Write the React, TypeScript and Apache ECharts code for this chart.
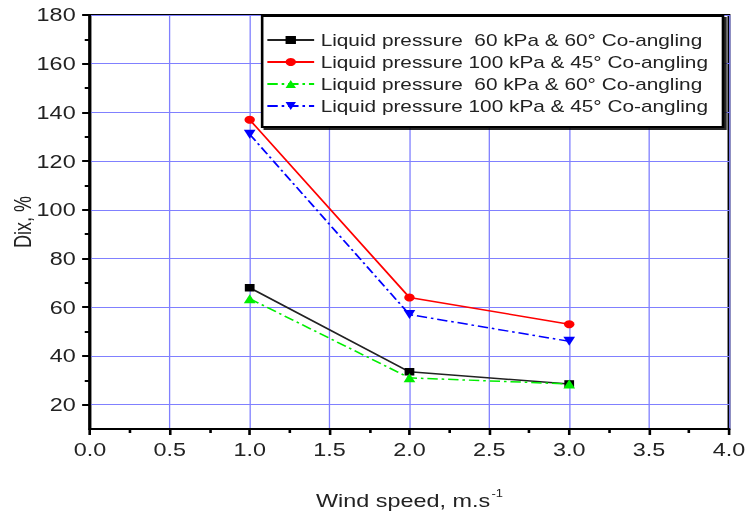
import React, { useEffect, useRef } from "react";
import * as echarts from "echarts";

const windSpeed = [1.0, 2.0, 3.0];
const s60a = [68, 33.5, 28.5];
const s100a = [137, 64, 53];
const s60b = [63.5, 31, 28.5];
const s100b = [131, 57, 46];
const yMajor = [20, 40, 60, 80, 100, 120, 140, 160, 180];
const yMinor = [30, 50, 70, 90, 110, 130, 150, 170];
const names = [
  "Liquid pressure  60 kPa & 60° Co-angling",
  "Liquid pressure 100 kPa & 45° Co-angling",
  "Liquid pressure  60 kPa & 60° Co-angling ",
  "Liquid pressure 100 kPa & 45° Co-angling ",
];

const pairs = (ys: number[]) => windSpeed.map((x, i) => [x, ys[i]]);

const W = 574;
const H = 513;
const SX = 746 / W;

export default function App() {
  const ref = useRef<HTMLDivElement>(null);
  useEffect(() => {
    const chart = echarts.init(ref.current!, null, { renderer: "svg" });
    const font = "Liberation Sans, Arial, sans-serif";
    const gridColor = "#8080ff";
    const txt = "#222";
    chart.setOption({
      animation: false,
      grid: {
        left: 69.2,
        top: 15,
        right: 13.1,
        bottom: 84,
        show: true,
        borderColor: "#000",
        borderWidth: 2.2,
        containLabel: false,
        outerBoundsMode: "none",
      },
      legend: {
        right: 17.7,
        top: 16,
        orient: "vertical",
        itemWidth: 36,
        itemHeight: 10,
        itemGap: 6,
        padding: [16, 7, 13, 3],
        backgroundColor: "#fff",
        borderColor: "#000",
        borderWidth: 2,
        shadowColor: "rgba(0,0,0,0.85)",
        shadowOffsetX: 2,
        shadowOffsetY: 2,
        shadowBlur: 0,
        textStyle: { fontFamily: font, fontSize: 16, color: txt },
        data: names,
      },
      xAxis: {
        type: "value",
        min: 0,
        max: 4,
        interval: 0.5,
        minorTick: { show: true, splitNumber: 2, length: 4, lineStyle: { color: "#000", width: 2 } },
        axisLine: { lineStyle: { color: "#000", width: 2.2 } },
        axisTick: { length: 6, lineStyle: { color: "#000", width: 2 } },
        axisLabel: { fontFamily: font, fontSize: 18, color: txt, margin: 12, formatter: (v: number) => v.toFixed(1) },
        splitLine: { show: true, lineStyle: { color: gridColor, width: 1 } },
        name: "{a|Wind speed, m.s}{s|-1}",
        nameLocation: "middle",
        nameGap: 60,
        nameTextStyle: {
          rich: {
            a: { fontFamily: font, fontSize: 18, color: txt },
            s: { fontFamily: font, fontSize: 10, color: txt, padding: [0, 0, 13, 1] },
          },
        },
      },
      yAxis: [
        {
          type: "value",
          min: 10,
          max: 180,
          interval: 20,
          axisLabel: { fontFamily: font, fontSize: 18, color: txt, margin: 11, customValues: yMajor },
          axisTick: { length: 6, lineStyle: { color: "#000", width: 2 }, customValues: yMajor },
          axisLine: { lineStyle: { color: "#000", width: 2.2 } },
          splitLine: { show: true, lineStyle: { color: gridColor, width: 1 } },
          name: "Dix, %",
          nameLocation: "middle",
          nameGap: 43,
          nameMoveOverlap: false,
          nameTextStyle: { fontFamily: font, fontSize: 18, color: txt },
        },
        {
          type: "value",
          position: "left",
          min: 10,
          max: 180,
          interval: 10,
          axisLabel: { show: false },
          axisTick: { length: 4, lineStyle: { color: "#000", width: 2 }, customValues: yMinor },
          axisLine: { show: false },
          splitLine: { show: false },
        },
      ],
      series: [
        {
          name: names[0],
          type: "line",
          data: pairs(s60a),
          symbol: "rect",
          symbolSize: 7.5,
          itemStyle: { color: "#000" },
          lineStyle: { color: "#222", width: 1.5 },
          z: 3,
        },
        {
          name: names[1],
          type: "line",
          data: pairs(s100a),
          symbol: "circle",
          symbolSize: 8,
          itemStyle: { color: "#ff0000" },
          lineStyle: { color: "#ff0000", width: 1.5 },
        },
        {
          name: names[2],
          type: "line",
          data: pairs(s60b),
          symbol: "triangle",
          symbolSize: 9,
          itemStyle: { color: "#00ee00" },
          lineStyle: { color: "#00ee00", width: 1.5, type: [8, 3, 2, 3] },
        },
        {
          name: names[3],
          type: "line",
          data: pairs(s100b),
          symbol: "triangle",
          symbolRotate: 180,
          symbolSize: 9,
          itemStyle: { color: "#0000ff" },
          lineStyle: { color: "#0000ff", width: 1.5, type: [8, 3, 2, 3] },
        },
      ],
    });
    return () => chart.dispose();
  }, []);
  return (
    <div style={{ width: 746, height: H, position: "absolute", left: 0, top: 0, overflow: "hidden", background: "#fff" }}>
      <div
        ref={ref}
        style={{ width: W, height: H, transform: `scaleX(${SX})`, transformOrigin: "0 0" }}
      />
    </div>
  );
}
